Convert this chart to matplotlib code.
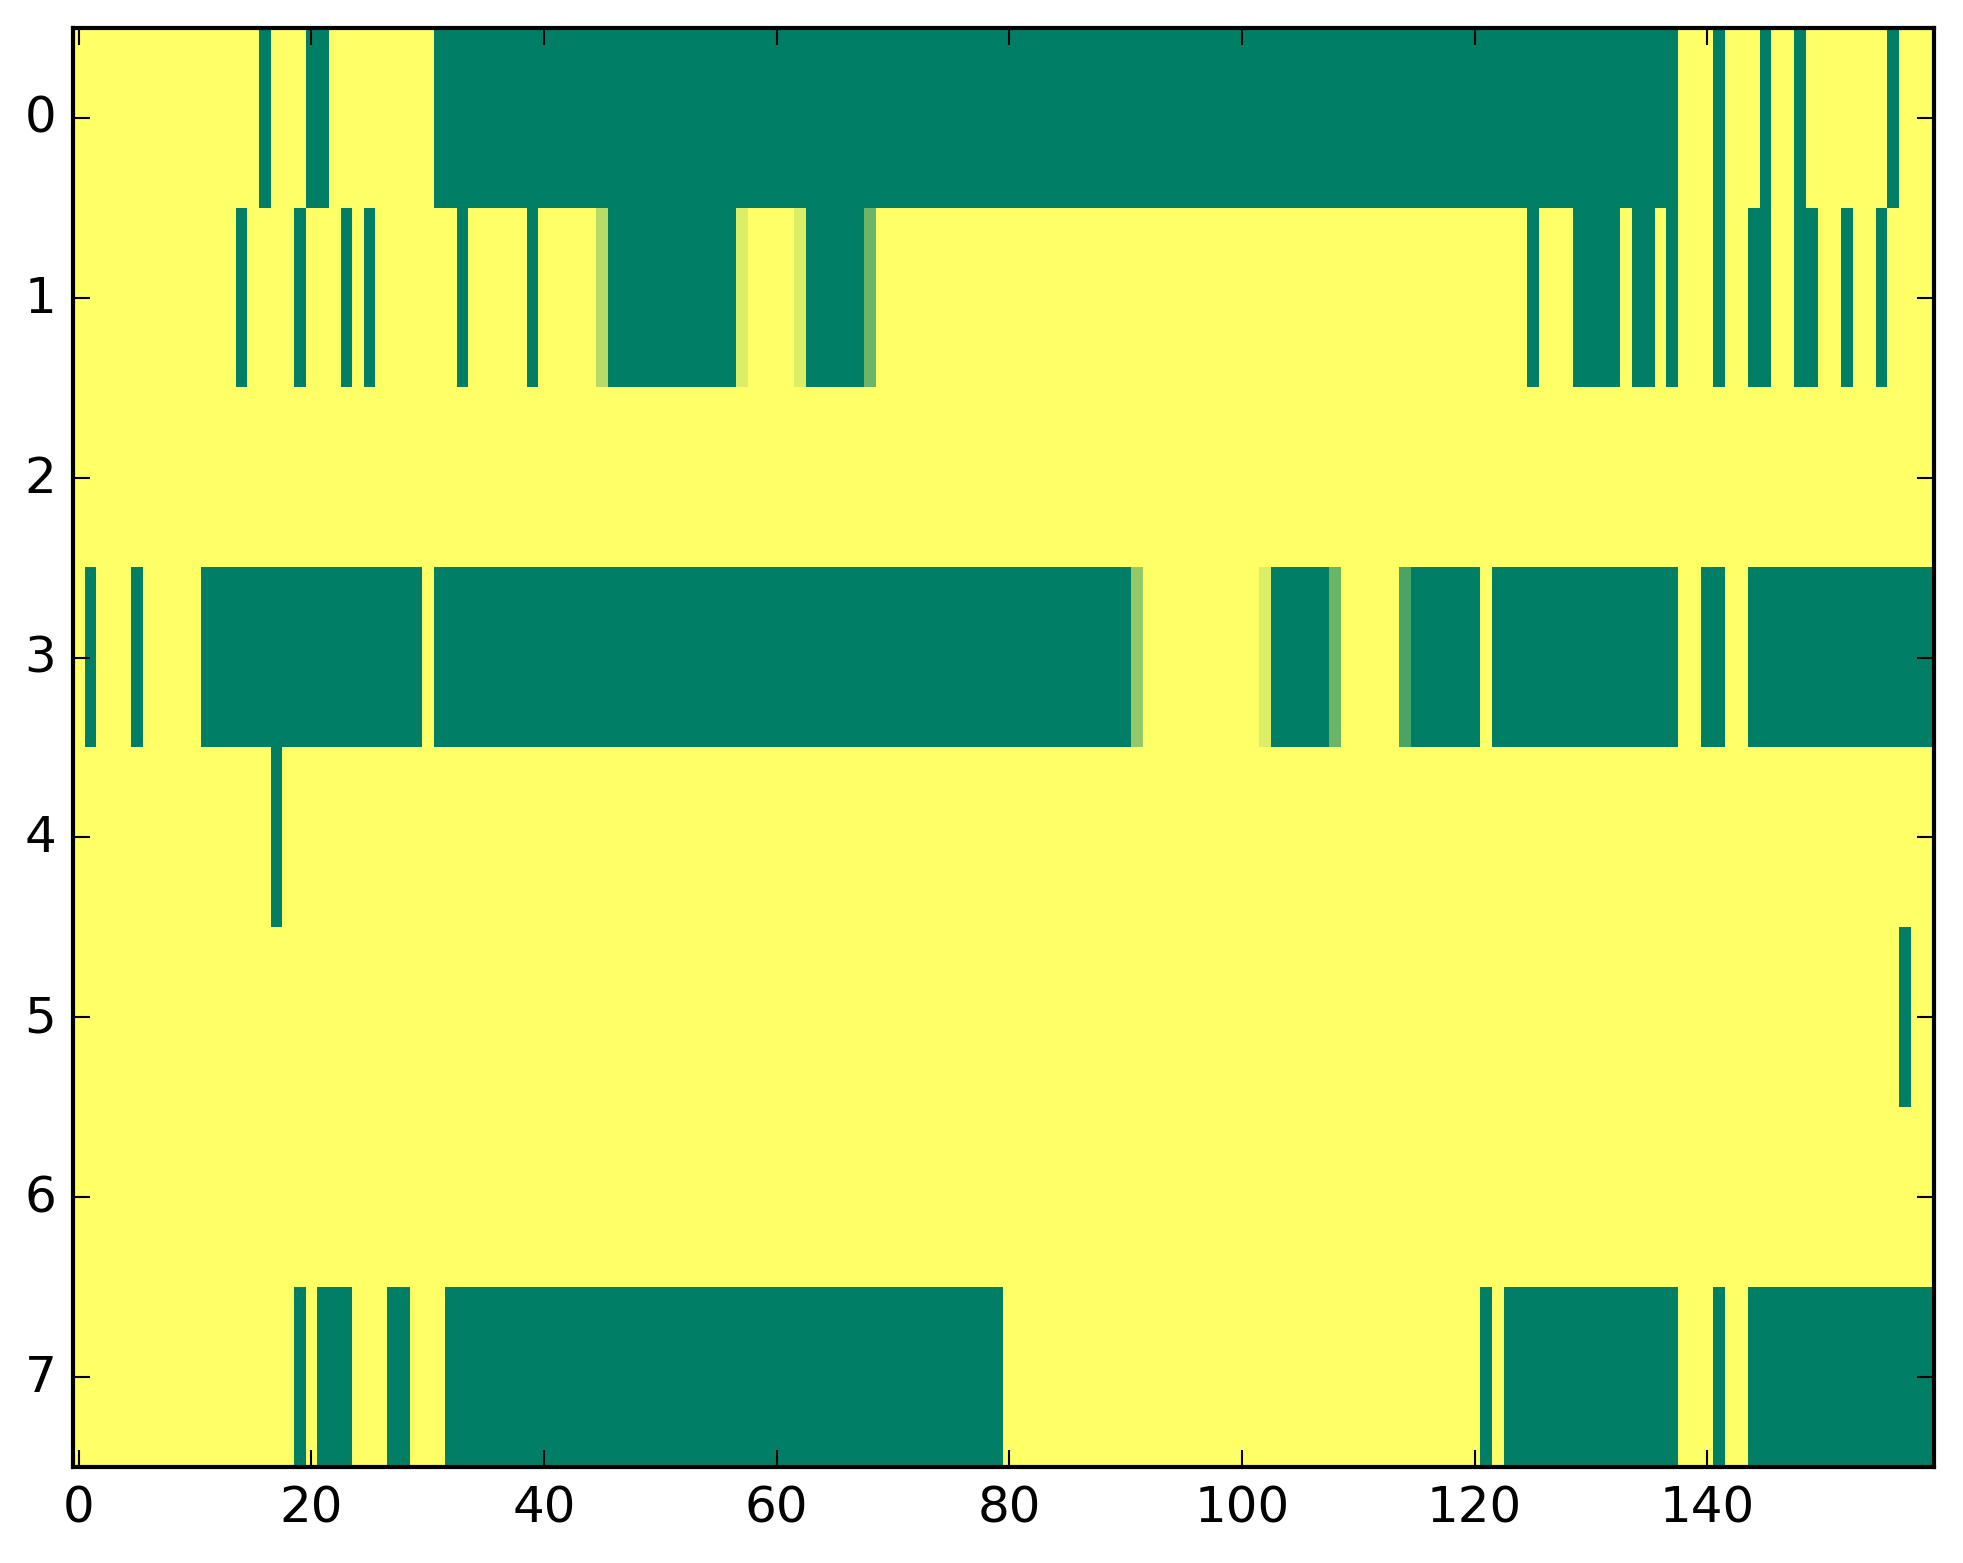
import numpy as np
import matplotlib
matplotlib.use("Agg")
import matplotlib.pyplot as plt

plt.style.use("classic")
plt.rcParams["font.family"] = ["DejaVu Sans"]
plt.rcParams["font.size"] = 12

# Each row as runs of (value, count); 1.0 = yellow, 0.0 = green
row0_runs = [(1, 16), (0, 1), (1, 3), (0, 2), (1, 9), (0, 107), (1, 3), (0, 1),
             (1, 3), (0, 1), (1, 2), (0, 1), (1, 7), (0, 1), (1, 3)]
row1_runs = [(1, 14), (0, 1), (1, 4), (0, 1), (1, 3), (0, 1), (1, 1), (0, 1),
             (1, 7), (0, 1), (1, 5), (0, 1), (1, 5), (0.72, 1), (0, 11), (0.86, 1),
             (1, 4), (0.86, 1), (0, 5), (0.42, 1), (1, 56), (0, 1), (1, 3), (0, 4),
             (1, 1), (0, 2), (1, 1), (0, 1), (1, 3), (0, 1), (1, 2), (0, 2),
             (1, 2), (0, 2), (1, 2), (0, 1), (1, 2), (0, 1), (1, 4)]
row2_runs = [(1, 160)]
row3_runs = [(1, 1), (0, 1), (1, 3), (0, 1), (1, 5), (0, 19), (1, 1), (0, 60),
             (0.58, 1), (1, 10), (0.86, 1), (0, 5), (0.42, 1), (1, 5), (0.29, 1),
             (0, 6), (1, 1), (0, 16), (1, 2), (0, 2), (1, 2), (0, 16)]
row4_runs = [(1, 17), (0, 1), (1, 142)]
row5_runs = [(1, 157), (0, 1), (1, 2)]
row6_runs = [(1, 160)]
row7_runs = [(1, 19), (0, 1), (1, 1), (0, 3), (1, 3), (0, 2), (1, 3), (0, 48),
             (1, 41), (0, 1), (1, 1), (0, 15), (1, 3), (0, 1), (1, 2), (0, 16)]

rows = [row0_runs, row1_runs, row2_runs, row3_runs,
        row4_runs, row5_runs, row6_runs, row7_runs]

x_ticks = [0, 20, 40, 60, 80, 100, 120, 140]
y_ticks = [0, 1, 2, 3, 4, 5, 6, 7]


def expand(runs):
    out = []
    for v, n in runs:
        out.extend([v] * n)
    return out


data = np.array([expand(r) for r in rows], dtype=float)

W, H = 1963, 1564
fig = plt.figure(figsize=(W / 300, H / 300), dpi=300, facecolor="white")
ax = fig.add_axes([73 / W, (H - 1468) / H, (1934 - 73) / W, (1468 - 29) / H])
ax.imshow(data, cmap="summer", vmin=0, vmax=1, aspect="auto",
          interpolation="nearest")
ax.set_xlim(-0.5, data.shape[1] - 0.5)
ax.set_ylim(data.shape[0] - 0.5, -0.5)
ax.set_xticks(x_ticks)
ax.set_yticks(y_ticks)
ax.tick_params(direction="in", top=True, right=True, length=4, width=0.5,
               labelsize=12)
for s in ax.spines.values():
    s.set_linewidth(1.0)

fig.savefig("out.png", dpi=300, facecolor="white")
